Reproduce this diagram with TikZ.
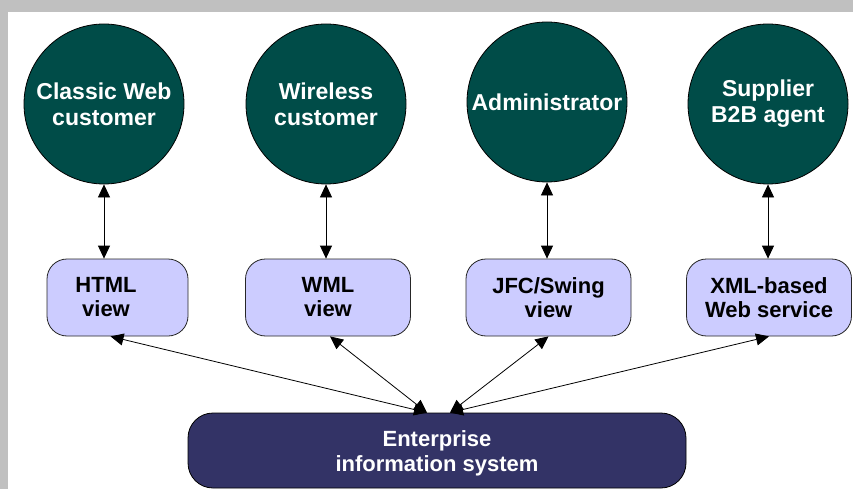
\documentclass[tikz,border=0pt]{standalone}
\usepackage{fontspec}
\setmainfont{Liberation Sans}
\usetikzlibrary{arrows.meta}
\definecolor{actorfill}{RGB}{0,76,72}
\definecolor{viewfill}{RGB}{204,204,255}
\definecolor{eisfill}{RGB}{51,51,102}
\definecolor{framegrey}{RGB}{192,192,192}
\begin{document}
\begin{tikzpicture}[x=1pt,y=-1pt,
  actor/.style={circle, draw=black, line width=0.8pt, fill=actorfill, text=white,
    minimum size=160pt, inner sep=0pt, align=center,
    font=\bfseries\fontsize{23}{26}\selectfont},
  viewbox/.style={rectangle, rounded corners=20pt, draw=black!85, line width=0.8pt,
    fill=viewfill, minimum width=165pt, minimum height=77pt, inner sep=0pt,
    align=center, font=\bfseries\fontsize{22}{24}\selectfont},
  viewtext/.style={inner sep=0pt, align=center,
    font=\bfseries\fontsize{22}{24}\selectfont},
  eisbox/.style={rectangle, rounded corners=25pt, draw=black, line width=0.8pt,
    fill=eisfill, minimum width=498pt, minimum height=75pt, inner sep=0pt},
  eistext/.style={inner sep=0pt, align=center, text=white,
    font=\bfseries\fontsize{22}{25}\selectfont},
  link/.style={{Triangle[length=13pt,width=12pt]}-{Triangle[length=13pt,width=12pt]},
    line width=0.8pt, black}
]
% frame
\fill[framegrey] (0,0) rectangle (853,489);
\fill[white] (8,12) rectangle (853,489);
\useasboundingbox (0,0) rectangle (853,489);

% actors
\node[actor] (cw) at (104,104) {Classic Web\\customer};
\node[actor] (wc) at (326,104) {Wireless\\customer};
\node[actor] (ad) at (547,102) {Administrator};
\node[actor] (sb) at (768,104) {Supplier\\B2B agent};

% views
\node[viewbox, minimum width=141pt] (html) at (117.5,297.5) {};
\node[viewtext] (htmltext) at (106,297.5) {HTML\\view};
\node[viewbox] (wml) at (328,297.5) {WML\\view};
\node[viewbox] (jfc) at (548.5,297.5) {JFC/Swing\\view};
\node[viewbox] (xml) at (769,297.5) {XML-based\\Web service};

% back end
\node[eisbox] (eis) at (437,450.5) {};
\node[eistext] (eistitle) at ([yshift=-3pt]eis.center) {Enterprise\\information system};

% actor <-> view
\draw[link] (cw) -- (cw |- html.north);
\draw[link] (wc) -- (wc |- wml.north);
\draw[link] (ad.south) -- (ad |- jfc.north);
\draw[link] (sb) -- (sb |- xml.north);

% view <-> back end
\coordinate (eisL) at ([xshift=-10pt]eis.north);
\coordinate (eisR) at ([xshift=13pt]eis.north);
\draw[link] ([xshift=-7pt]html.south) -- (eisL);
\draw[link] ([xshift=2pt]wml.south) -- (eisL);
\draw[link] (jfc.south) -- (eisR);
\draw[link] (xml.south) -- (eisR);
\end{tikzpicture}
\end{document}
